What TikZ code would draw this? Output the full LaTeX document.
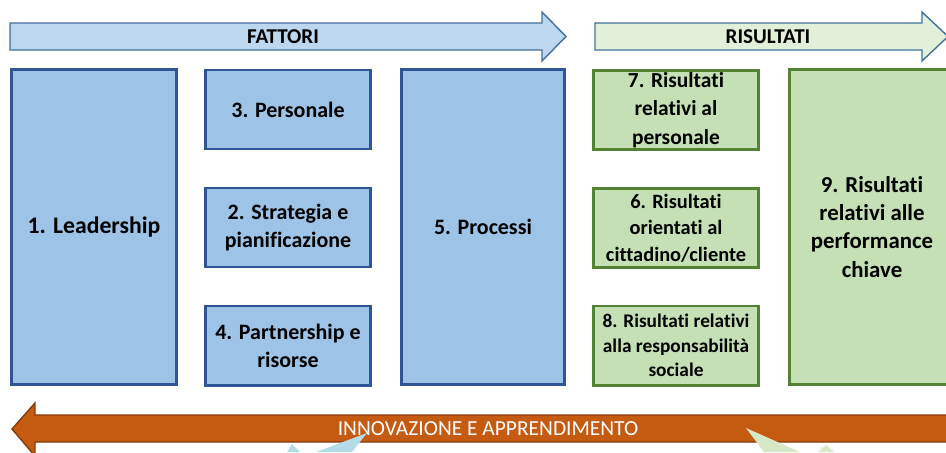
\documentclass[tikz,border=0pt]{standalone}
\usepackage{fontspec}
\setmainfont{Carlito}[Ligatures=NoCommon]
\usetikzlibrary{backgrounds}

\definecolor{fattblue}{HTML}{9DC3E6}
\definecolor{fattedge}{HTML}{2F5597}
\definecolor{risgreen}{HTML}{C5E0B4}
\definecolor{risedge}{HTML}{548235}
\definecolor{arrblue}{HTML}{BDD7EE}
\definecolor{arredge}{HTML}{41719C}
\definecolor{arrgreen}{HTML}{E2F0D9}
\definecolor{innorange}{HTML}{C55A11}
\definecolor{innedge}{HTML}{843C0C}
\definecolor{decoblue}{HTML}{B4DCE8}
\definecolor{decogreen}{HTML}{D6E8C6}

\tikzset{
  fattbox/.style={draw=fattedge, fill=fattblue, line width=1.7pt, align=center,
    inner sep=1pt, font=\bfseries\fontsize{12.5}{16}\selectfont},
  risbox/.style={draw=risedge, fill=risgreen, line width=1.7pt, align=center,
    inner sep=1pt, font=\bfseries\fontsize{12.2}{16.2}\selectfont},
  tallbox/.style={minimum width=33mm, minimum height=63mm},
  smallbox/.style={minimum width=33mm, minimum height=15.8mm},
  fattlink/.style={draw=fattblue, line width=2.8pt},
  rislink/.style={draw=risgreen, line width=2.8pt},
  toparrow/.style={draw=arredge, line width=0.8pt},
  arrlabel/.style={font=\bfseries\fontsize{12}{14}\selectfont}
}

\begin{document}
\begin{tikzpicture}[x=0.2mm, y=-0.2mm]

        \useasboundingbox (0,0) rectangle (946,452);
        \clip (0,0) rectangle (946,452);

        \fill[white] (0,0) rectangle (946,452);

        \path[toparrow, fill=arrblue] (10,23) -- (542,23) -- (542,12) -- (566,36.5)
          -- (542,61) -- (542,50) -- (10,50) -- cycle;
        \node[arrlabel] (fattori) at (283,36.5) {FATTORI};

        \path[toparrow, fill=arrgreen] (595,23) -- (922,23) -- (922,12) -- (948,36.5)
          -- (922,61) -- (922,50) -- (595,50) -- cycle;
        \node[arrlabel] (risultati) at (768,36.5) {RISULTATI};

        \begin{scope}[every node/.style={fattbox}]
          \node[tallbox, font=\bfseries\fontsize{13.5}{16}\selectfont]
            (lead)  at (94,227)    {1. Leadership};
          \node[smallbox] (pers)  at (288,109.5) {3. Personale};
          \node[smallbox] (strat) at (288,227.5) {2. Strategia e\\pianificazione};
          \node[smallbox] (partn) at (288,345.5) {4. Partnership e\\risorse};
          \node[tallbox, minimum width=32.6mm] (proc) at (483,227) {5. Processi};
        \end{scope}

        \begin{scope}[every node/.style={risbox, minimum width=33.4mm}]
          \node[smallbox] (ris7) at (676,110) {7. Risultati\\relativi al\\personale};
          \node[smallbox, font=\bfseries\fontsize{11.6}{15}\selectfont]
            (ris6) at (676,228) {6. Risultati\\orientati al\\cittadino/cliente};
          \node[smallbox, font=\bfseries\fontsize{11}{13.8}\selectfont]
            (ris8) at (676,345.5) {8. Risultati relativi\\alla responsabilità\\sociale};
          \node[tallbox, font=\bfseries\fontsize{13}{16}\selectfont]
            (ris9) at (872,227) {9. Risultati\\relativi alle\\performance\\chiave};
        \end{scope}

        \begin{scope}[on background layer]
          \path[fattlink] (lead.east |- pers.west) -- (pers.west);
          \path[fattlink] (lead.east |- strat.west) -- (strat.west);
          \path[fattlink] ([yshift=3pt]lead.east |- partn.west) -- ([yshift=3pt]partn.west);
          \path[fattlink] (pers.east) -- (proc.west |- pers.east);
          \path[fattlink] (strat.east) -- (proc.west |- strat.east);
          \path[fattlink] ([yshift=3pt]partn.east) -- ([yshift=3pt]proc.west |- partn.east);
          \path[rislink] (proc.east |- ris7.west) -- (ris7.west);
          \path[rislink] (proc.east |- ris6.west) -- (ris6.west);
          \path[rislink] ([yshift=4pt]proc.east |- ris8.west) -- ([yshift=4pt]ris8.west);
          \path[rislink] (ris7.east) -- (ris9.west |- ris7.east);
          \path[rislink] (ris6.east) -- (ris9.west |- ris6.east);
          \path[rislink] ([yshift=4pt]ris8.east) -- ([yshift=4pt]ris9.west |- ris8.east);
        \end{scope}

        \path[draw=innedge, line width=0.8pt, fill=innorange] (960,415) -- (35,415) -- (35,403)
          -- (12,429) -- (35,456) -- (35,442) -- (960,442) -- cycle;
        \node[text=white, font=\fontsize{12.2}{14}\selectfont] (innov) at (488,429)
          {INNOVAZIONE E APPRENDIMENTO};

        \fill[decoblue] (367,433) -- (352,452) -- (316,452) -- cycle;
        \fill[decoblue] (292,444) -- (300,452) -- (287,452) -- cycle;
        \fill[decogreen] (746,428) -- (800,452) -- (764,452) -- cycle;
        \fill[decogreen] (826,445) -- (834,452) -- (818,452) -- cycle;

      \end{tikzpicture}
\end{document}
